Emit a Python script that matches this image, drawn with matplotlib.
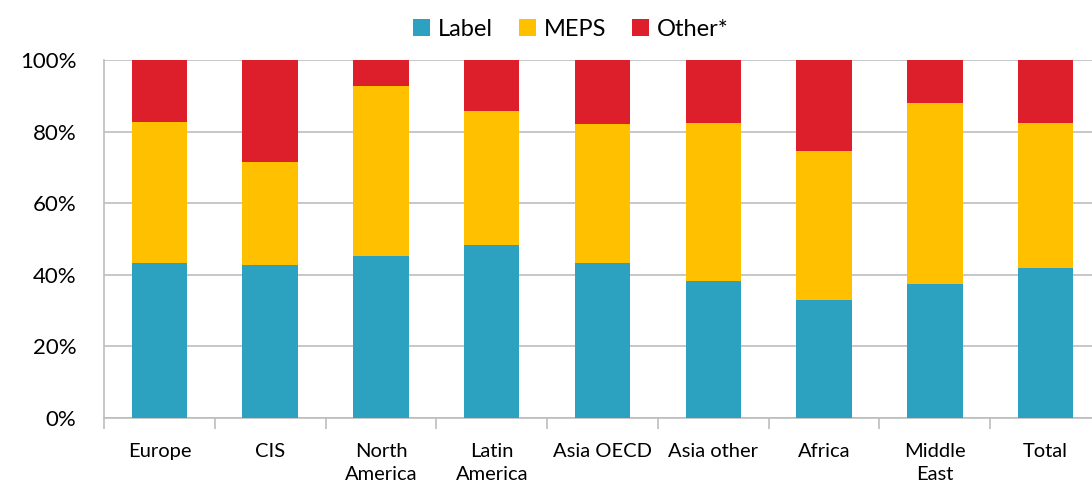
"""Stacked share chart: policy coverage by region."""

import matplotlib

matplotlib.use("Agg")
from matplotlib import pyplot as plt  # noqa: E402
from matplotlib.ticker import FuncFormatter, FixedLocator  # noqa: E402

regions = ["Europe", "CIS", "North\nAmerica", "Latin\nAmerica", "Asia OECD",
           "Asia other", "Africa", "Middle\nEast", "Total"]
label_share = [43.3, 42.8, 45.2, 48.3, 43.4, 38.2, 33.0, 37.5, 41.9]
meps_share = [39.4, 28.7, 47.5, 37.5, 38.6, 44.2, 41.7, 50.5, 40.5]
other_share = [100 - a - b for a, b in zip(label_share, meps_share)]

colors = {"Label": "#2ca2c0", "MEPS": "#ffc000", "Other*": "#dc1f2a"}

plt.rcParams["font.family"] = ["Lato", "DejaVu Sans"]

fig = plt.figure(figsize=(10.92, 4.88), dpi=100)
ax = fig.add_axes([104 / 1092, 70 / 488, 997 / 1092, 358 / 488])

x = range(len(regions))
ax.bar(x, label_share, width=0.5, color=colors["Label"], label="Label", zorder=3)
ax.bar(x, meps_share, width=0.5, bottom=label_share, color=colors["MEPS"], label="MEPS", zorder=3)
bottoms = [a + b for a, b in zip(label_share, meps_share)]
ax.bar(x, other_share, width=0.5, bottom=bottoms, color=colors["Other*"], label="Other*", zorder=3)

ax.set_xlim(-0.5, len(regions) - 0.5)
ax.set_ylim(0, 100)
ax.set_yticks(range(0, 101, 20))
ax.yaxis.set_major_formatter(FuncFormatter(lambda v, _: f"{v:.0f}%"))
ax.grid(axis="y", color="#bdbdbd", linewidth=1.2, zorder=0)

ax.set_xticks(list(x))
ax.set_xticklabels(regions, fontsize=14.5, linespacing=1.45)
ax.tick_params(axis="x", length=0, pad=18)
ax.xaxis.set_minor_locator(FixedLocator([i + 0.5 for i in range(-1, len(regions))]))
ax.tick_params(axis="x", which="minor", length=8, color="#bdbdbd", width=1.2)
ax.tick_params(axis="y", length=0, labelsize=16, pad=20)

for side in ("top", "right"):
    ax.spines[side].set_visible(False)
ax.spines["left"].set_color("#bdbdbd")
ax.spines["bottom"].set_color("#bdbdbd")
ax.spines["left"].set_linewidth(1.2)
ax.spines["bottom"].set_linewidth(1.2)

fig.legend(loc="center", bbox_to_anchor=(571 / 1092, 1 - 29 / 488), ncol=3, frameon=False,
           fontsize=17, handlelength=0.7, handleheight=0.7, handletextpad=0.35, columnspacing=1.1)

fig.savefig("out.png", dpi=100)
